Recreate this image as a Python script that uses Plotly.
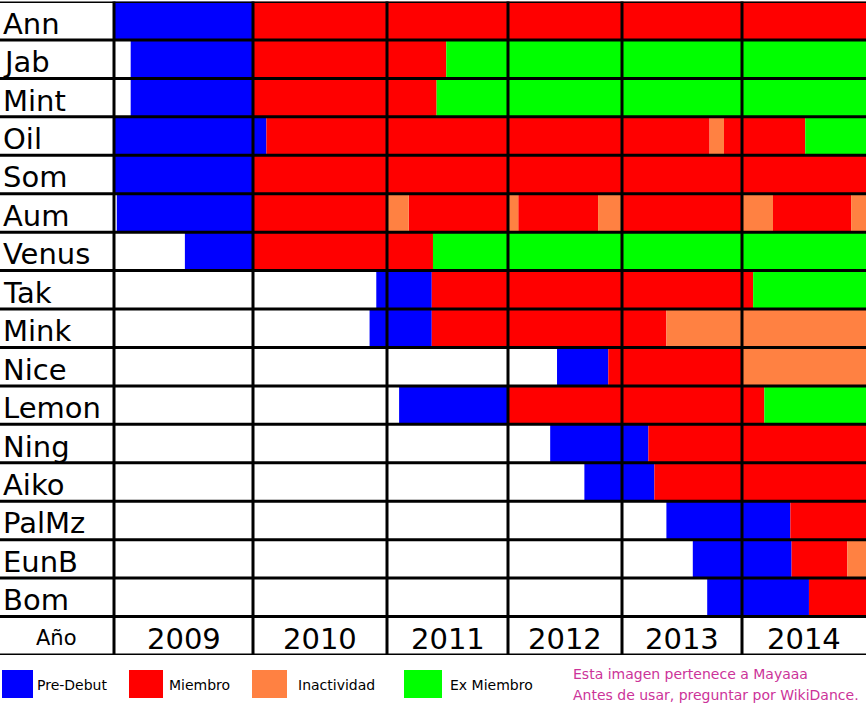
import plotly.graph_objects as go

# ---------------- data ----------------
names = ["Ann", "Jab", "Mint", "Oil", "Som", "Aum", "Venus", "Tak", "Mink",
         "Nice", "Lemon", "Ning", "Aiko", "PalMz", "EunB", "Bom"]
years = [2009, 2010, 2011, 2012, 2013, 2014]
year_labels = ["2009", "2010", "2011", "2012", "2013", "2014"]
states = ["Pre-Debut", "Miembro", "Inactividad", "Ex Miembro"]
state_colors = ["#0000FF", "#FF0000", "#FF8142", "#00FF00"]

# (state, start, end) in fractional years
ann = [("Pre-Debut", 2009.00, 2010.00), ("Miembro", 2010.00, 2015.00)]
jab = [("Pre-Debut", 2009.12, 2010.00), ("Miembro", 2010.00, 2011.49), ("Ex Miembro", 2011.49, 2015.00)]
mint = [("Pre-Debut", 2009.12, 2010.00), ("Miembro", 2010.00, 2011.41), ("Ex Miembro", 2011.41, 2015.00)]
oil = [("Pre-Debut", 2009.00, 2010.10), ("Miembro", 2010.10, 2013.73), ("Inactividad", 2013.73, 2013.85),
       ("Miembro", 2013.85, 2014.51), ("Ex Miembro", 2014.51, 2015.00)]
som = [("Pre-Debut", 2009.00, 2010.00), ("Miembro", 2010.00, 2015.00)]
aum = [("Pre-Debut", 2009.02, 2010.00), ("Miembro", 2010.00, 2011.00), ("Inactividad", 2011.00, 2011.18),
       ("Miembro", 2011.18, 2012.00), ("Inactividad", 2012.00, 2012.09), ("Miembro", 2012.09, 2012.79),
       ("Inactividad", 2012.79, 2013.00), ("Miembro", 2013.00, 2014.00), ("Inactividad", 2014.00, 2014.25),
       ("Miembro", 2014.25, 2014.88), ("Inactividad", 2014.88, 2015.00)]
venus = [("Pre-Debut", 2009.51, 2010.00), ("Miembro", 2010.00, 2011.38), ("Ex Miembro", 2011.38, 2015.00)]
tak = [("Pre-Debut", 2010.92, 2011.37), ("Miembro", 2011.37, 2014.09), ("Ex Miembro", 2014.09, 2015.00)]
mink = [("Pre-Debut", 2010.87, 2011.37), ("Miembro", 2011.37, 2013.37), ("Inactividad", 2013.37, 2015.00)]
nice = [("Pre-Debut", 2012.43, 2012.88), ("Miembro", 2012.88, 2014.00), ("Inactividad", 2014.00, 2015.00)]
lemon = [("Pre-Debut", 2011.10, 2012.00), ("Miembro", 2012.00, 2014.18), ("Ex Miembro", 2014.18, 2015.00)]
ning = [("Pre-Debut", 2012.37, 2013.22), ("Miembro", 2013.22, 2015.00)]
aiko = [("Pre-Debut", 2012.67, 2013.27), ("Miembro", 2013.27, 2015.00)]
palmz = [("Pre-Debut", 2013.37, 2014.39), ("Miembro", 2014.39, 2015.00)]
eunb = [("Pre-Debut", 2013.59, 2014.40), ("Miembro", 2014.40, 2014.85), ("Inactividad", 2014.85, 2015.00)]
bom = [("Pre-Debut", 2013.71, 2014.54), ("Miembro", 2014.54, 2015.00)]

segments = {"Ann": ann, "Jab": jab, "Mint": mint, "Oil": oil, "Som": som, "Aum": aum,
            "Venus": venus, "Tak": tak, "Mink": mink, "Nice": nice, "Lemon": lemon,
            "Ning": ning, "Aiko": aiko, "PalMz": palmz, "EunB": eunb, "Bom": bom}

year_row_label = "Año"
watermark = ["Esta imagen pertenece a Mayaaa", "Antes de usar, preguntar por WikiDance."]

# ---------------- layout constants ----------------
W, H = 868, 705
col_edges = [0, 114, 253, 387, 508, 622, 742, 866]   # px: name column + one column per year
top_px, bottom_px = 1.5, 655
FONT = "DejaVu Sans"
rows = names + [year_row_label]

fig = go.Figure()

for i, yr in enumerate(years):
    xa = f"x{i + 2}"
    for st, col in zip(states, state_colors):
        ys, bases, lens = [], [], []
        for nm in names:
            for s, a, b in segments[nm]:
                if s != st:
                    continue
                lo, hi = max(a, yr), min(b, yr + 1)
                if hi > lo:
                    ys.append(nm)
                    bases.append(lo)
                    lens.append(hi - lo)
        if ys:
            fig.add_trace(go.Bar(orientation="h", y=ys, x=lens, base=bases,
                                 xaxis=xa, yaxis="y", width=1.0,
                                 marker=dict(color=col, line=dict(width=0)),
                                 showlegend=False, hoverinfo="skip"))

layout = dict(
    width=W, height=H, margin=dict(l=0, r=0, t=0, b=0),
    paper_bgcolor="white", plot_bgcolor="white",
    barmode="overlay", showlegend=False,
    yaxis=dict(domain=[1 - bottom_px / H, 1 - top_px / H], type="category",
               categoryorder="array", categoryarray=rows,
               range=[len(rows) - 0.5, -0.5], visible=False, fixedrange=True),
    xaxis=dict(domain=[col_edges[0] / W, col_edges[1] / W], range=[0, 1],
               visible=False, anchor="y", fixedrange=True),
)
for i, yr in enumerate(years):
    layout[f"xaxis{i + 2}"] = dict(domain=[col_edges[i + 1] / W, col_edges[i + 2] / W],
                                   range=[yr, yr + 1], visible=False, anchor="y",
                                   fixedrange=True)
fig.update_layout(**layout)

shapes = []
# horizontal row lines
for k in range(len(rows) + 1):
    shapes.append(dict(type="line", xref="paper", yref="y", x0=0, x1=col_edges[-1] / W,
                       y0=k - 0.5, y1=k - 0.5, line=dict(color="black", width=3)))
# vertical column lines
for e in col_edges[1:-1]:
    shapes.append(dict(type="line", xref="paper", yref="paper", x0=e / W, x1=e / W,
                       y0=1 - bottom_px / H, y1=1 - top_px / H,
                       line=dict(color="black", width=3)))

annotations = []
for idx, nm in enumerate(names):
    annotations.append(dict(xref="paper", yref="y", x=1 / W, y=idx, text=nm,
                            xanchor="left", yanchor="middle", showarrow=False, yshift=-3,
                            font=dict(family=FONT, size=29, color="black")))
annotations.append(dict(xref="paper", yref="y", x=(col_edges[0] + col_edges[1]) / 2 / W,
                        y=len(names), text=year_row_label, showarrow=False, yshift=-2,
                        xanchor="center", yanchor="middle",
                        font=dict(family=FONT, size=21, color="black")))
for i, yr in enumerate(years):
    annotations.append(dict(xref=f"x{i + 2}", yref="y", x=yr + 0.5, y=len(names),
                            text=year_labels[i], showarrow=False, yshift=-3,
                            xanchor="center", yanchor="middle",
                            font=dict(family=FONT, size=29, color="black")))

# legend swatches and labels (bottom strip)
legend_boxes = [(2, 33), (129, 163), (252, 287), (404, 442)]
legend_text_x = [35, 167, 296, 448]
for (x0, x1), tx, st, col in zip(legend_boxes, legend_text_x, states, state_colors):
    shapes.append(dict(type="rect", xref="paper", yref="paper",
                       x0=x0 / W, x1=x1 / W, y0=1 - 698 / H, y1=1 - 670 / H,
                       fillcolor=col, line=dict(width=0)))
    annotations.append(dict(xref="paper", yref="paper", x=tx / W, y=1 - 685 / H,
                            text=st, showarrow=False, xanchor="left", yanchor="middle",
                            font=dict(family=FONT, size=14, color="black")))

for j, line in enumerate(watermark):
    annotations.append(dict(xref="paper", yref="paper", x=571 / W, y=1 - (674 + 21 * j) / H,
                            text=line, showarrow=False, xanchor="left", yanchor="middle",
                            font=dict(family=FONT, size=14, color="#CC3399")))

fig.update_layout(shapes=shapes, annotations=annotations)
fig.write_html("out.html", config={"displayModeBar": False},
               post_script="document.body.style.margin='0';document.body.style.padding='0';")
